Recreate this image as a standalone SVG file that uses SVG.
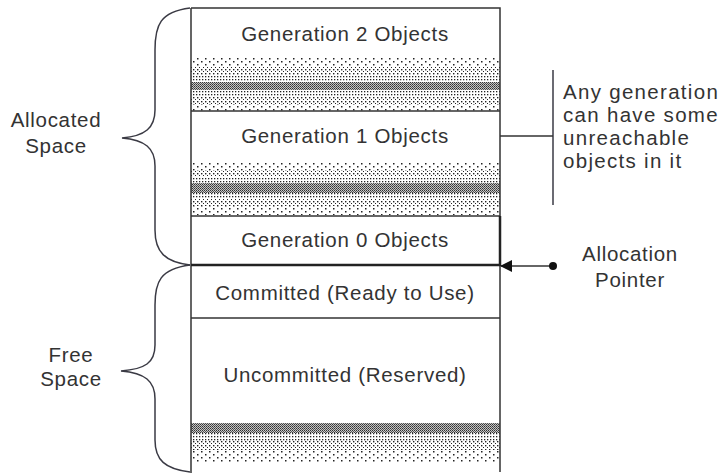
<svg xmlns="http://www.w3.org/2000/svg" width="723" height="473" viewBox="0 0 723 473">
<defs>
<style>
text{font-family:"Liberation Sans",Arial,sans-serif;font-size:20.5px;letter-spacing:0.7px;fill:#333}
.note{letter-spacing:1.3px}
.c{text-anchor:middle}
.ln{stroke:#333;stroke-width:1.5;fill:none}
.br{stroke:#3a3a44;stroke-width:1.5;fill:none}
</style>
<pattern id="p1" width="8" height="6" patternUnits="userSpaceOnUse"><rect x="1" y="1" width="1.5" height="1.5" fill="#222"/><rect x="5" y="4" width="1.5" height="1.5" fill="#222"/></pattern>
<pattern id="p2" width="4" height="4" patternUnits="userSpaceOnUse"><rect x="1" y="1" width="1.4" height="1.4" fill="#222"/><rect x="3" y="3" width="1" height="1" fill="#222"/></pattern>
<pattern id="p2b" width="3" height="3" patternUnits="userSpaceOnUse"><rect x="1" y="1" width="1.3" height="1.3" fill="#222"/></pattern>
<pattern id="p3" width="2" height="2" patternUnits="userSpaceOnUse"><rect width="2" height="2" fill="#c4c4c4"/><rect x="0" y="0" width="1" height="1" fill="#333"/><rect x="1" y="1" width="1" height="1" fill="#555"/></pattern>
<marker id="ah" markerWidth="12" markerHeight="12" refX="11" refY="6" orient="auto" markerUnits="userSpaceOnUse"><path d="M0,0 L12,6 L0,12 Z" fill="#111"/></marker>
</defs>
<rect width="723" height="473" fill="#fff"/>

<g id="gen2">
<rect x="191" y="58" width="309" height="9" fill="url(#p1)"/>
<rect x="191" y="67" width="309" height="8" fill="url(#p2)"/>
<rect x="191" y="75" width="309" height="7" fill="url(#p2b)"/>
<rect x="191" y="82" width="309" height="8" fill="url(#p3)"/>
<rect x="191" y="90" width="309" height="7" fill="url(#p2b)"/>
<rect x="191" y="97" width="309" height="7" fill="url(#p2)"/>
<rect x="191" y="104" width="309" height="7" fill="url(#p1)"/>
<text class="c" x="345" y="41">Generation 2 Objects</text>
</g>
<g id="gen1">
<rect x="191" y="162" width="309" height="8" fill="url(#p1)"/>
<rect x="191" y="170" width="309" height="7" fill="url(#p2)"/>
<rect x="191" y="177" width="309" height="6" fill="url(#p2b)"/>
<rect x="191" y="183" width="309" height="10" fill="url(#p3)"/>
<rect x="191" y="193" width="309" height="6" fill="url(#p2b)"/>
<rect x="191" y="199" width="309" height="7" fill="url(#p2)"/>
<rect x="191" y="206" width="309" height="9" fill="url(#p1)"/>
<text class="c" x="345" y="143">Generation 1 Objects</text>
</g>
<g id="gen0">
<text class="c" x="345" y="247">Generation 0 Objects</text>
</g>
<g id="committed">
<text class="c" x="345" y="300">Committed (Ready to Use)</text>
</g>
<g id="uncommitted">
<rect x="191" y="423" width="309" height="10" fill="url(#p3)"/>
<rect x="191" y="433" width="309" height="8" fill="url(#p2b)"/>
<rect x="191" y="441" width="309" height="9" fill="url(#p2)"/>
<rect x="191" y="450" width="309" height="12" fill="url(#p1)"/>
<text class="c" x="345" y="382">Uncommitted (Reserved)</text>
</g>

<g id="column">
<path class="ln" d="M191,8 H500 V472 M191,8 V473"/>
<line class="ln" x1="191" y1="111" x2="500" y2="111"/>
<line class="ln" x1="191" y1="216" x2="500" y2="216"/>
<line x1="500" y1="216" x2="500" y2="266" stroke="#222" stroke-width="2.5"/>
<line x1="191" y1="265" x2="500" y2="265" stroke="#222" stroke-width="2.5"/>
<line class="ln" x1="191" y1="318" x2="500" y2="318"/>
</g>

<g id="allocated-brace">
<path class="br" d="M190,8 C160,12 155,25 155,50 V110 C155,128 145,136 122,138 C145,140 155,148 155,166 V230 C155,252 165,262 190,265"/>
<text class="c" x="56" y="127">Allocated</text>
<text class="c" x="56" y="153">Space</text>
</g>
<g id="free-brace">
<path class="br" d="M190,265 C160,269 155,282 155,305 V345 C155,363 145,369 121,371 C145,373 155,381 155,399 V440 C155,460 165,469 190,472"/>
<text class="c" x="71" y="362">Free</text>
<text class="c" x="71" y="386">Space</text>
</g>

<g id="note">
<text class="note" x="563" y="99">Any generation</text>
<text class="note" x="563" y="122">can have some</text>
<text class="note" x="563" y="145">unreachable</text>
<text class="note" x="563" y="168">objects in it</text>
</g>
<g id="pointer-label">
<text class="c" x="630" y="261">Allocation</text>
<text class="c" x="630" y="287">Pointer</text>
</g>

<g id="connectors">
<line class="br" x1="553" y1="70" x2="553" y2="205"/>
<line class="ln" x1="500" y1="136" x2="553" y2="136"/>
<line x1="553" y1="266" x2="501" y2="266" stroke="#333" stroke-width="1.5" marker-end="url(#ah)"/>
<circle cx="553" cy="266" r="4" fill="#111"/>
</g>
</svg>
